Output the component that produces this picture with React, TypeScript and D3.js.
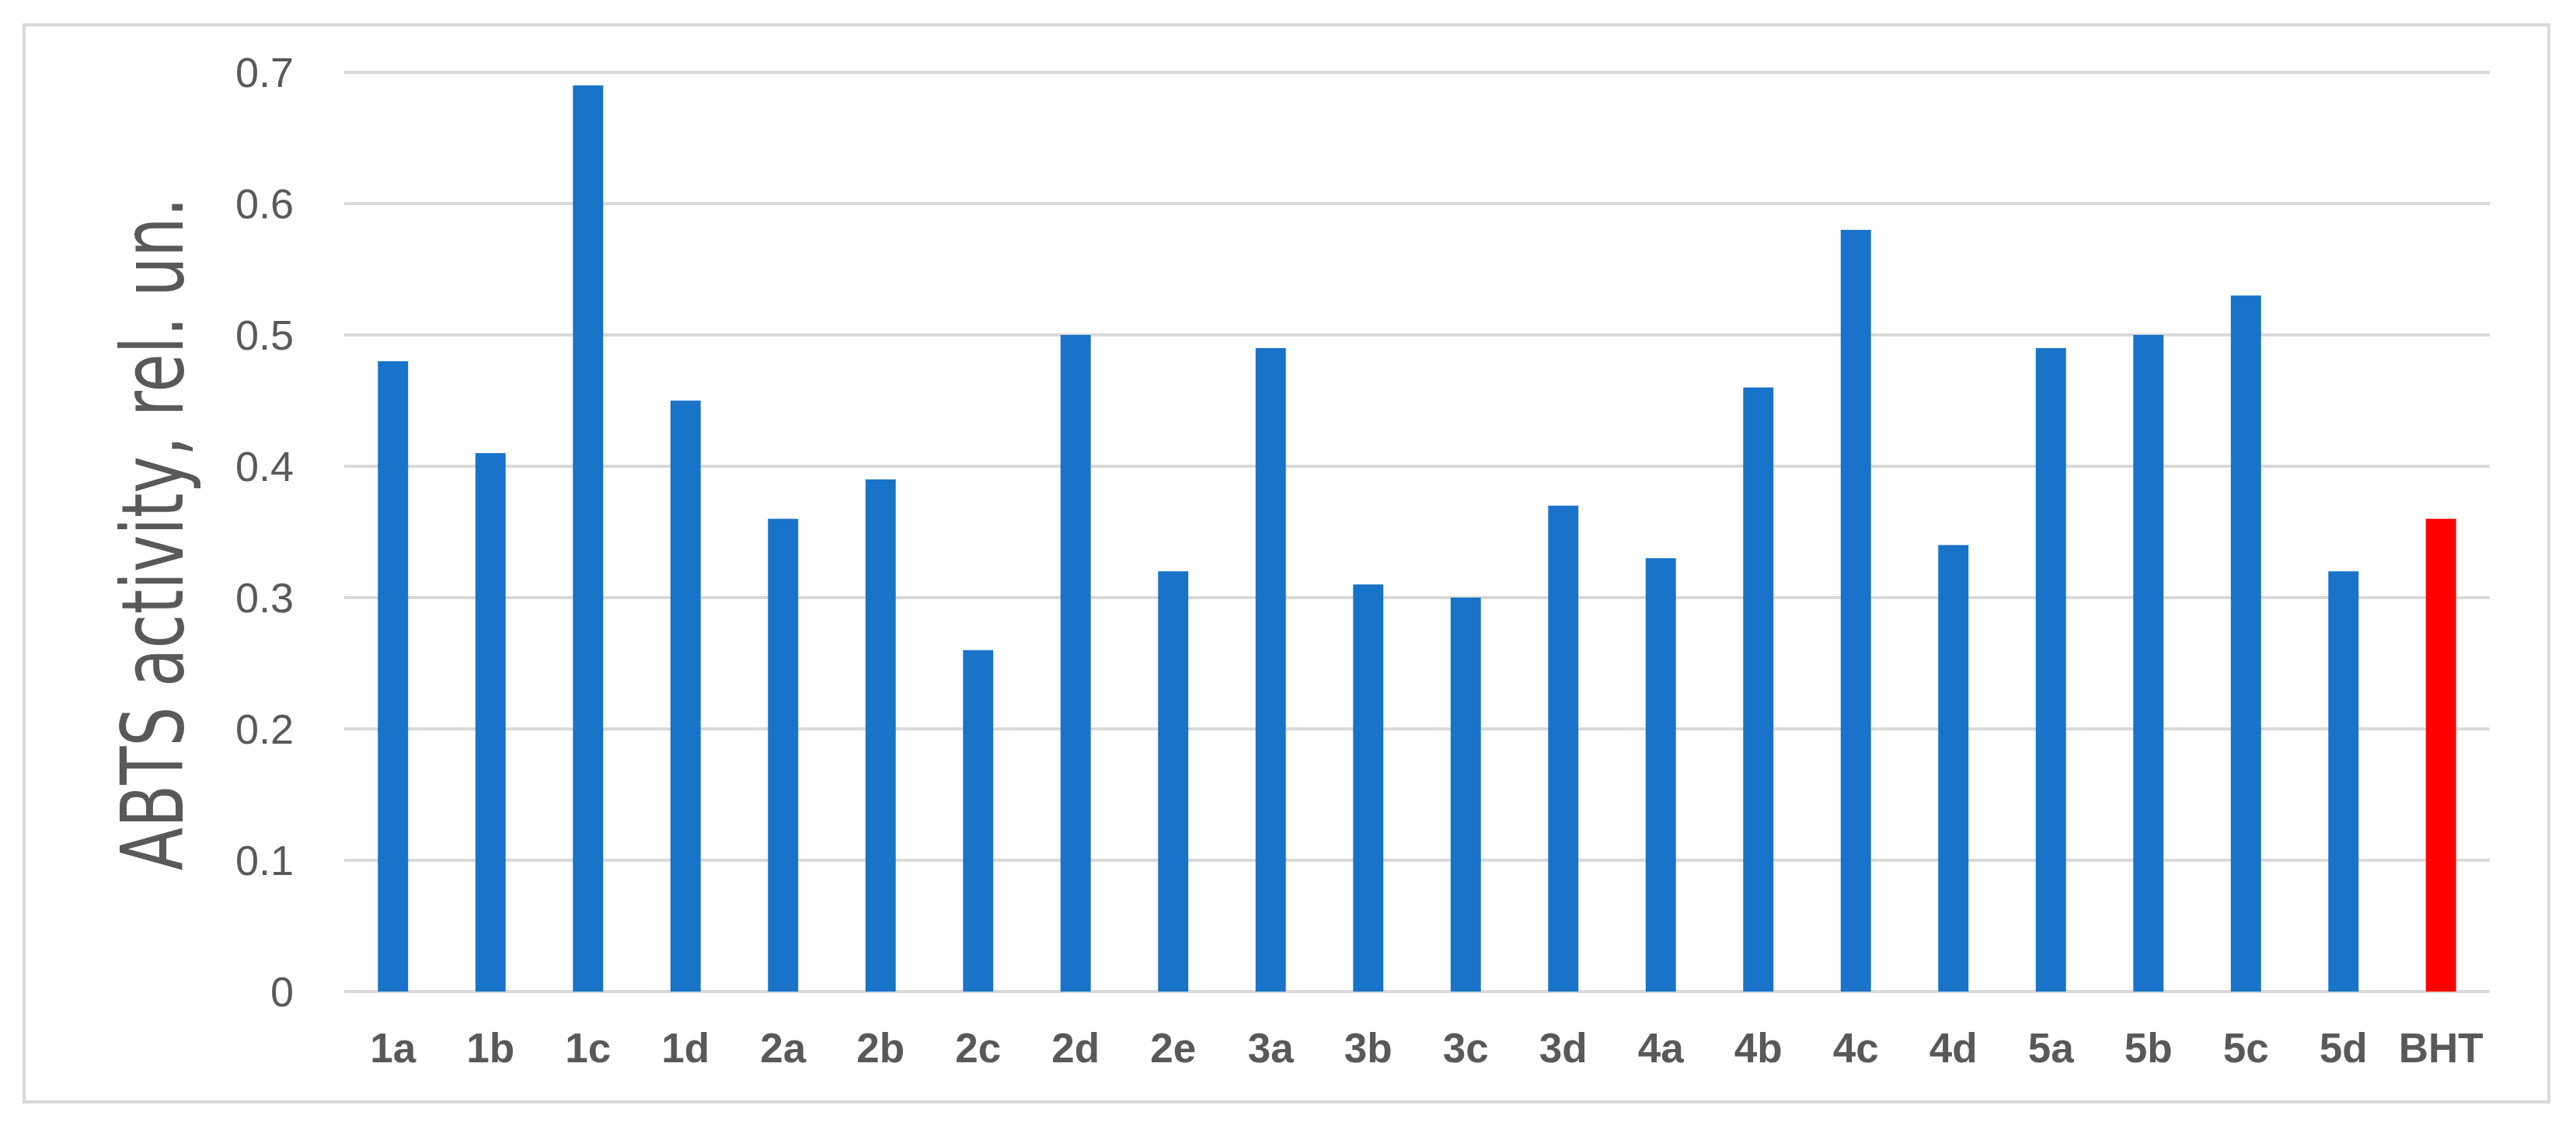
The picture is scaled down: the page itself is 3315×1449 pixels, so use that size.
import * as d3 from "d3";

const categories = [
  "1a", "1b", "1c", "1d", "2a", "2b", "2c", "2d", "2e", "3a", "3b",
  "3c", "3d", "4a", "4b", "4c", "4d", "5a", "5b", "5c", "5d", "BHT",
];
const activity = [
  0.48, 0.41, 0.69, 0.45, 0.36, 0.39, 0.26, 0.5, 0.32, 0.49, 0.31,
  0.3, 0.37, 0.33, 0.46, 0.58, 0.34, 0.49, 0.5, 0.53, 0.32, 0.36,
];
const yTicks = [0, 0.1, 0.2, 0.3, 0.4, 0.5, 0.6, 0.7];
const referenceName = "BHT";
const yTitle = "ABTS activity, rel. un.";

const W = 3315;
const H = 1449;
const plot = { left: 443, right: 3204, top: 93, bottom: 1276 };

const BLUE = "#1873c9";
const RED = "#ff0000";
const GRID = "#d9d9d9";
const TEXT = "#595959";

const App = () => {
  const x = d3
    .scaleBand()
    .domain(categories)
    .range([plot.left, plot.right])
    .paddingInner(0.69)
    .paddingOuter(0.345);

  const y = d3
    .scaleLinear()
    .domain([0, 0.7])
    .range([plot.bottom, plot.top]);

  const fmt = (v: number) => (v === 0 ? "0" : d3.format(".1f")(v));

  return (
    <svg
      width={W}
      height={H}
      style={{ position: "absolute", left: 0, top: 0, background: "#fff" }}
    >
      <rect x={0} y={0} width={W} height={H} fill="#fff" />
      {/* outer chart frame */}
      <rect
        x={31}
        y={32}
        width={3249}
        height={1386}
        fill="none"
        stroke={GRID}
        strokeWidth={4}
      />

      {/* gridlines */}
      {yTicks.map(t => (
        <line
          key={t}
          x1={plot.left}
          x2={plot.right}
          y1={y(t)}
          y2={y(t)}
          stroke={GRID}
          strokeWidth={4}
        />
      ))}

      {/* bars */}
      {categories.map((c, i) => (
        <rect
          key={c}
          x={x(c)!}
          y={y(activity[i])}
          width={x.bandwidth()}
          height={y(0) - y(activity[i])}
          fill={c === referenceName ? RED : BLUE}
        />
      ))}

      {/* y tick labels */}
      {yTicks.map(t => (
        <text
          key={t}
          x={378}
          y={y(t)}
          dy="0.36em"
          textAnchor="end"
          fontFamily="'Liberation Sans', Arial, sans-serif"
          fontSize={54}
          fill={TEXT}
        >
          {fmt(t)}
        </text>
      ))}

      {/* x category labels */}
      {categories.map(c => (
        <text
          key={c}
          x={x(c)! + x.bandwidth() / 2}
          y={1367}
          textAnchor="middle"
          fontFamily="'Liberation Sans', Arial, sans-serif"
          fontWeight="bold"
          fontSize={53}
          fill={TEXT}
        >
          {c}
        </text>
      ))}

      {/* y axis title */}
      <text
        transform="translate(235,687) rotate(-90)"
        textAnchor="middle"
        fontFamily="'Liberation Sans Narrow', 'DejaVu Sans Condensed', sans-serif"
        fontSize={110}
        fill={TEXT}
        textLength={866}
        lengthAdjust="spacingAndGlyphs"
      >
        {yTitle}
      </text>
    </svg>
  );
};

export default App;
